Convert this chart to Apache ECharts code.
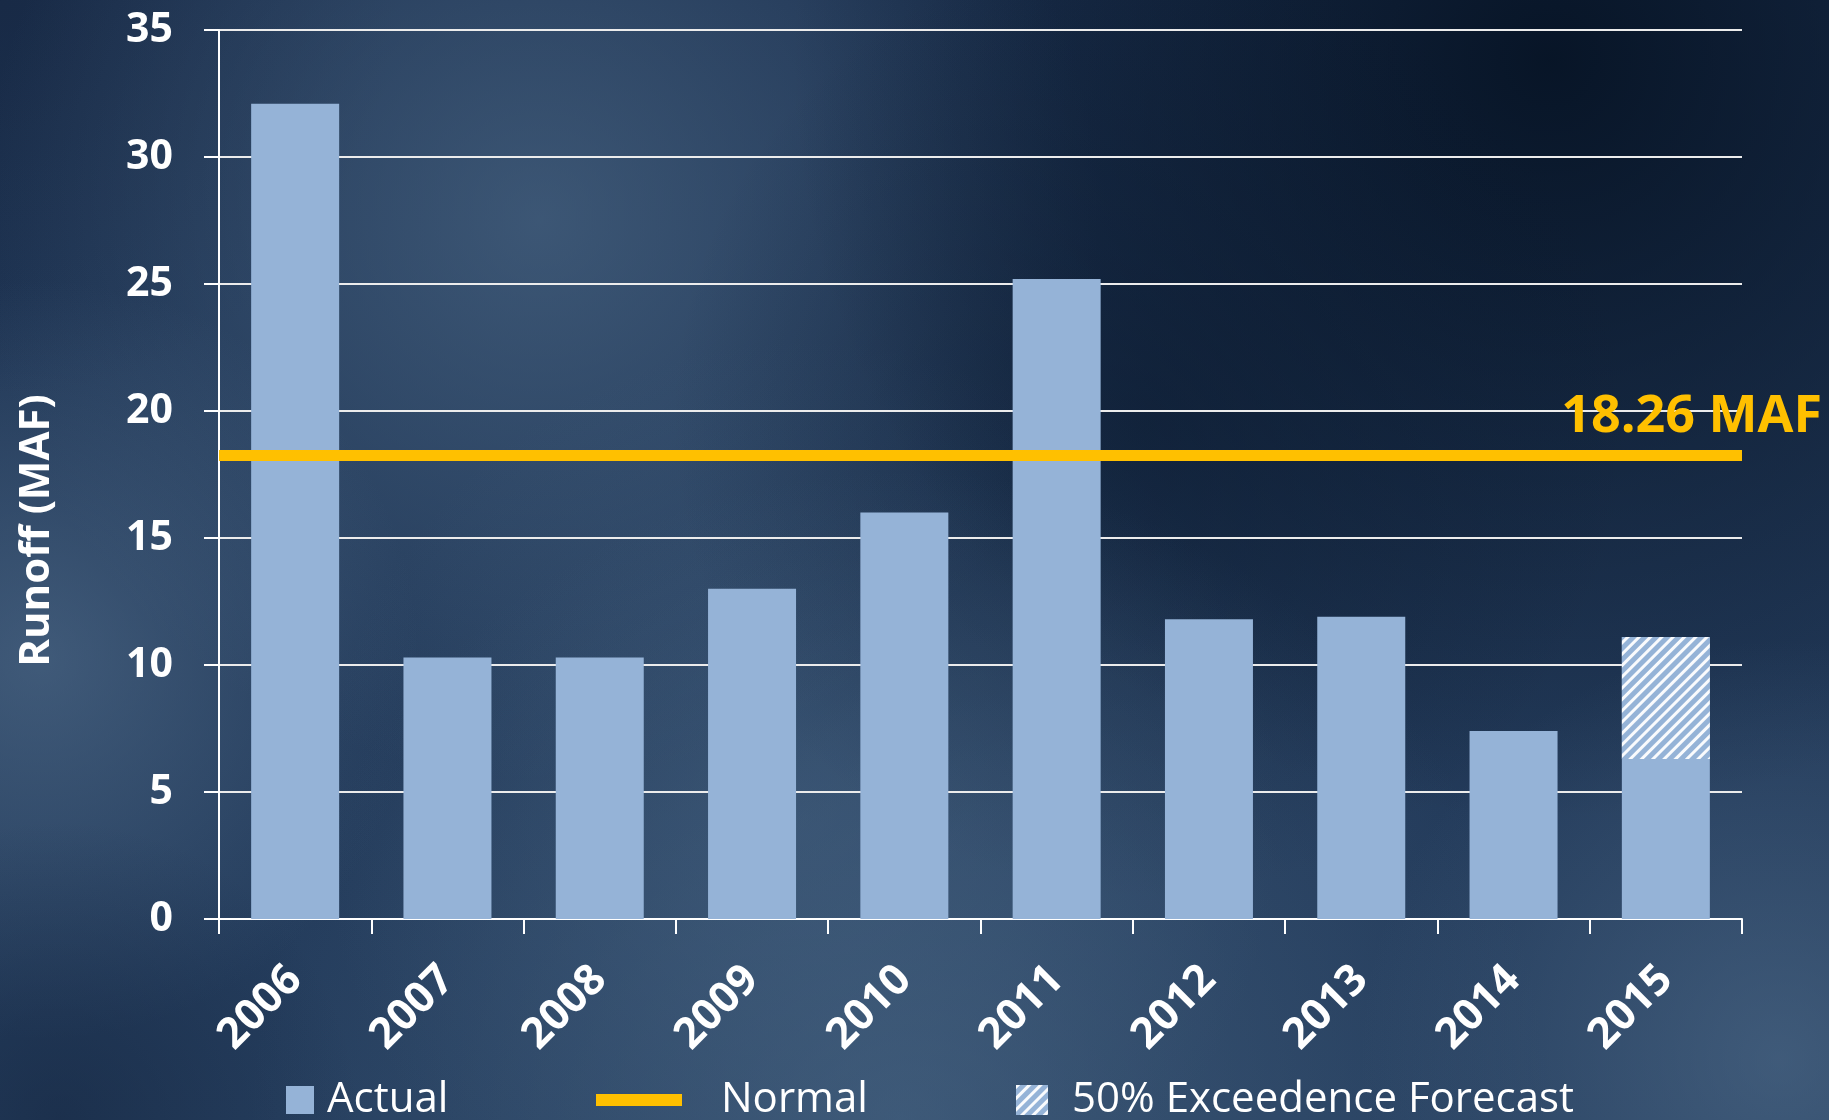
<!DOCTYPE html>
<html>
<head>
<meta charset="utf-8">
<script src="https://cdn.jsdelivr.net/npm/echarts@6/dist/echarts.min.js"></script>
<style>
html, body { margin: 0; padding: 0; background: #1b3150; }
#chart { width: 1829px; height: 1120px; }
</style>
</head>
<body>
<div id="chart"></div>
<script>
// ---- Data ----
const years = ['2006', '2007', '2008', '2009', '2010', '2011', '2012', '2013', '2014', '2015'];
const actualValues = [32.1, 10.3, 10.3, 13.0, 16.0, 25.2, 11.8, 11.9, 7.4, 6.3];
const forecastValues = ['-', '-', '-', '-', '-', '-', '-', '-', '-', 4.8];
const normalValue = 18.26;
const normalLabel = '18.26 MAF';
const yAxisName = 'Runoff (MAF)';
const seriesNames = ['Actual', 'Normal', '50% Exceedence Forecast'];
const yMin = 0, yMax = 35, yStep = 5;

// ---- Styles ----
const barColor = '#95B3D7';
const normalColor = '#FFC000';
const FONT = '"Open Sans", "Noto Sans", sans-serif';

function radial(x, y, r, color) {
  return {
    type: 'rect', z: -100, silent: true,
    shape: { x: 0, y: 0, width: 1829, height: 1120 },
    style: {
      fill: {
        type: 'radial', x: x, y: y, r: r, global: true,
        colorStops: [
          { offset: 0, color: color },
          { offset: 1, color: color.replace(/[\d.]+\)$/, '0)') }
        ]
      }
    }
  };
}

const chart = echarts.init(document.getElementById('chart'), null, { renderer: 'canvas' });

const option = {
  animation: false,
  backgroundColor: {
    type: 'linear', x: 0, y: 0, x2: 0, y2: 1,
    colorStops: [
      { offset: 0, color: '#1c3150' },
      { offset: 1, color: '#263f5f' }
    ]
  },
  graphic: [
    radial(0, 0, 400, 'rgba(20,35,60,0.5)'),
    radial(540, 220, 560, 'rgba(85,115,145,0.55)'),
    radial(40, 660, 380, 'rgba(100,130,160,0.45)'),
    radial(800, 820, 480, 'rgba(80,110,140,0.35)'),
    radial(1550, 60, 760, 'rgba(4,16,32,0.85)'),
    radial(1150, 420, 480, 'rgba(8,22,42,0.45)'),
    radial(900, 1120, 650, 'rgba(80,110,140,0.5)'),
    radial(1780, 1060, 420, 'rgba(95,125,155,0.45)'),
    radial(60, 1120, 300, 'rgba(15,30,55,0.45)')
  ],
  grid: { left: 219, right: 87, top: 30, bottom: 201, containLabel: false, outerBoundsMode: 'none' },
  legend: [
    {
      data: [{ name: seriesNames[0], icon: 'rect' }],
      left: 286, top: 1079, padding: 0, itemWidth: 28, itemHeight: 28,
      selectedMode: false,
      textStyle: { color: '#ffffff', fontFamily: FONT, fontSize: 42, padding: [0, 0, 0, 8] }
    },
    {
      data: [{ name: seriesNames[1], icon: 'rect' }],
      left: 596, top: 1079, padding: 0, itemWidth: 86, itemHeight: 12,
      selectedMode: false,
      itemStyle: { color: normalColor },
      textStyle: { color: '#ffffff', fontFamily: FONT, fontSize: 42, padding: [0, 0, 0, 34] }
    },
    {
      data: [{ name: seriesNames[2], icon: 'rect' }],
      left: 1016, top: 1079, padding: 0, itemWidth: 32, itemHeight: 30,
      selectedMode: false,
      textStyle: { color: '#ffffff', fontFamily: FONT, fontSize: 42, padding: [0, 0, 0, 19] }
    }
  ],
  xAxis: {
    type: 'category',
    data: years,
    axisLine: { show: true, lineStyle: { color: '#ffffff', width: 2 } },
    axisTick: { show: true, length: 15, lineStyle: { color: '#ffffff', width: 2 } },
    axisLabel: {
      rotate: 45, margin: 54, color: '#ffffff',
      fontFamily: FONT, fontWeight: 'bold', fontSize: 43
    },
    splitLine: { show: false }
  },
  yAxis: {
    type: 'value',
    min: yMin, max: yMax, interval: yStep,
    name: yAxisName,
    nameLocation: 'middle',
    nameGap: 161,
    nameRotate: 90,
    nameTextStyle: {
      color: '#ffffff', fontFamily: FONT, fontWeight: 'bold', fontSize: 42,
      padding: [0, 112, 0, 0]
    },
    axisLine: { show: true, lineStyle: { color: '#ffffff', width: 2 } },
    axisTick: { show: true, length: 15, lineStyle: { color: '#ffffff', width: 2 } },
    axisLabel: {
      margin: 46, color: '#ffffff',
      fontFamily: FONT, fontWeight: 'bold', fontSize: 41
    },
    splitLine: { show: true, lineStyle: { color: '#ececec', width: 2 } }
  },
  series: [
    {
      name: seriesNames[0],
      type: 'bar',
      stack: 'runoff',
      data: actualValues,
      barWidth: 88,
      itemStyle: { color: barColor },
      z: 3
    },
    {
      name: seriesNames[2],
      type: 'bar',
      stack: 'runoff',
      data: forecastValues,
      barWidth: 88,
      itemStyle: {
        color: barColor,
        decal: {
          symbol: 'rect',
          color: 'rgba(255,255,255,0.95)',
          backgroundColor: barColor,
          dashArrayX: [1, 0],
          dashArrayY: [3, 5],
          rotation: -Math.PI / 4,
          symbolSize: 1
        }
      },
      z: 3
    },
    {
      name: seriesNames[1],
      type: 'line',
      data: [],
      color: normalColor,
      itemStyle: { color: normalColor },
      z: 5,
      markLine: {
        silent: true,
        symbol: 'none',
        data: [{ yAxis: normalValue }],
        lineStyle: { color: normalColor, width: 11, type: 'solid' },
        label: {
          show: true,
          position: 'insideEndTop',
          distance: [-80, 12],
          formatter: normalLabel,
          color: normalColor,
          fontFamily: FONT,
          fontWeight: 'bold',
          fontSize: 52
        },
        emphasis: { disabled: true }
      }
    }
  ]
};

chart.setOption(option);
</script>
</body>
</html>
